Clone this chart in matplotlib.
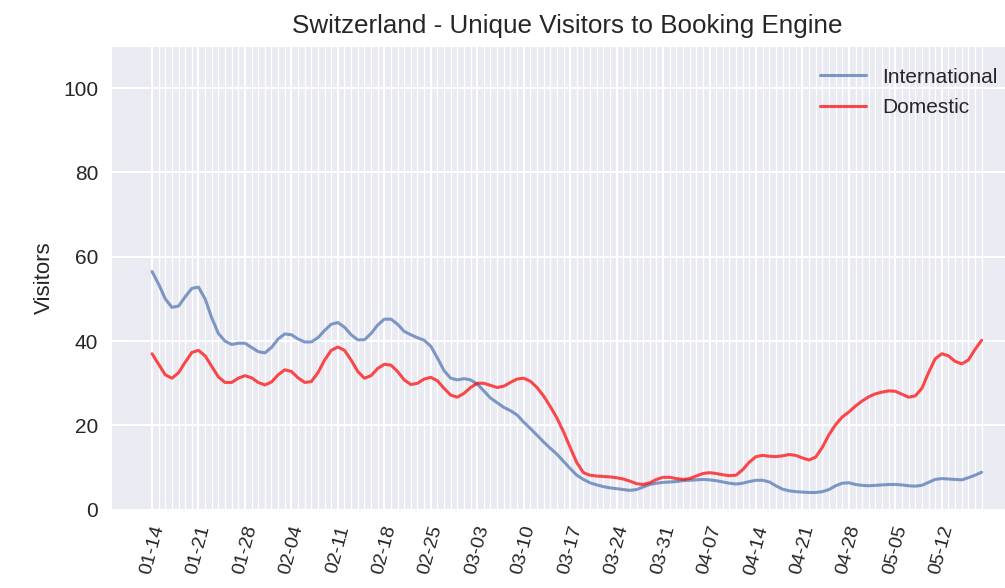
import pandas as pd
import matplotlib
matplotlib.use('Agg')
import matplotlib.pyplot as plt
import matplotlib.dates as mdates
import matplotlib.ticker as mticker
import seaborn as sns

start_date = '2020-01-14'

# daily unique visitors (01-14 .. 05-18)
international = [
    56.5, 53.5, 50.0, 48.0, 48.3, 50.5, 52.5, 52.8, 50.0, 45.5,
    41.8, 40.0, 39.2, 39.5, 39.5, 38.5, 37.5, 37.2, 38.5, 40.5,
    41.7, 41.5, 40.5, 39.8, 39.8, 40.8, 42.5, 44.0, 44.4, 43.3,
    41.5, 40.3, 40.3, 41.8, 43.8, 45.2, 45.2, 44.0, 42.3, 41.5,
    40.8, 40.2, 38.8, 36.0, 33.0, 31.2, 30.8, 31.1, 30.8, 29.8,
    28.2, 26.5, 25.4, 24.3, 23.5, 22.5, 20.8, 19.3, 17.7, 16.1,
    14.6, 13.2, 11.5, 9.8, 8.2, 7.2, 6.4, 5.9, 5.5, 5.2,
    5.0, 4.8, 4.6, 4.8, 5.4, 6.0, 6.3, 6.5, 6.6, 6.7,
    6.9, 7.0, 7.1, 7.2, 7.1, 6.9, 6.6, 6.3, 6.1, 6.3,
    6.7, 7.0, 7.0, 6.6, 5.7, 4.9, 4.5, 4.3, 4.2, 4.1,
    4.1, 4.3, 4.8, 5.7, 6.3, 6.4, 6.0, 5.8, 5.7, 5.8,
    5.9, 6.0, 6.0, 5.9, 5.7, 5.6, 5.8, 6.5, 7.2, 7.4,
    7.3, 7.2, 7.1, 7.6, 8.2, 8.9,
]
domestic = [
    37.0, 34.5, 32.0, 31.2, 32.5, 35.0, 37.3, 37.8, 36.5, 34.0,
    31.5, 30.2, 30.2, 31.2, 31.8, 31.3, 30.2, 29.6, 30.3, 32.0,
    33.2, 32.8, 31.3, 30.2, 30.4, 32.5, 35.5, 37.8, 38.6, 37.8,
    35.5, 32.8, 31.2, 31.8, 33.5, 34.5, 34.3, 32.8, 30.8, 29.7,
    30.0, 31.0, 31.4, 30.6, 28.8, 27.2, 26.7, 27.6, 29.0, 30.0,
    30.0, 29.5, 29.0, 29.3, 30.2, 31.0, 31.2, 30.5, 29.0, 27.0,
    24.5, 21.8, 18.5, 14.8, 11.2, 8.8, 8.2, 8.0, 7.9, 7.8,
    7.6, 7.3, 6.8, 6.2, 6.0, 6.4, 7.2, 7.7, 7.7, 7.4,
    7.2, 7.4, 8.0, 8.6, 8.8, 8.6, 8.3, 8.1, 8.2, 9.5,
    11.3, 12.6, 12.9, 12.7, 12.6, 12.8, 13.1, 12.9, 12.3, 11.8,
    12.5, 14.8, 17.8, 20.2, 22.0, 23.2, 24.6, 25.8, 26.8, 27.5,
    27.9, 28.2, 28.1, 27.4, 26.7, 27.0, 28.8, 32.5, 35.8, 37.0,
    36.5, 35.2, 34.6, 35.5, 38.0, 40.2,
]
dates = pd.date_range(start_date, periods=len(international), freq='D')

sns.set_style('darkgrid')
plt.rcParams['font.family'] = ['Liberation Sans', 'DejaVu Sans']

fig = plt.figure(figsize=(10.05, 5.88), dpi=100)
ax = fig.add_axes([0.110, 0.133, 0.908, 0.789])

ax.plot(dates, international, color='#4C72B0', alpha=0.7, lw=2.2, label='International')
ax.plot(dates, domestic, color='red', alpha=0.7, lw=2.2, label='Domestic')

ax.set_ylim(0, 110)
ax.set_yticks([0, 20, 40, 60, 80, 100])
ax.set_xticks(pd.date_range(start_date, '2020-05-12', freq='7D'))
ax.xaxis.set_major_formatter(mdates.DateFormatter('%m-%d'))
# one faint line per day, only over the data range
ax.xaxis.set_minor_locator(mticker.FixedLocator(mdates.date2num(dates)))
ax.grid(True, which='major', color='white', lw=1.5)
ax.grid(True, which='minor', axis='x', color='white', lw=0.9)
ax.tick_params(which='both', length=0)
ax.tick_params(axis='x', labelsize=14, rotation=75, pad=10, colors='#262626')
ax.tick_params(axis='y', labelsize=15, pad=9, colors='#262626')

ax.set_ylabel('Visitors', fontsize=16, color='#262626', labelpad=6)
ax.set_title('Switzerland - Unique Visitors to Booking Engine', fontsize=18.7, color='#262626', pad=9)

ax.legend(loc='upper left', bbox_to_anchor=(0.797, 0.917), bbox_transform=fig.transFigure,
          frameon=False, fontsize=15, handlelength=2.2, labelspacing=0.55)

fig.savefig('out.png', dpi=100)
